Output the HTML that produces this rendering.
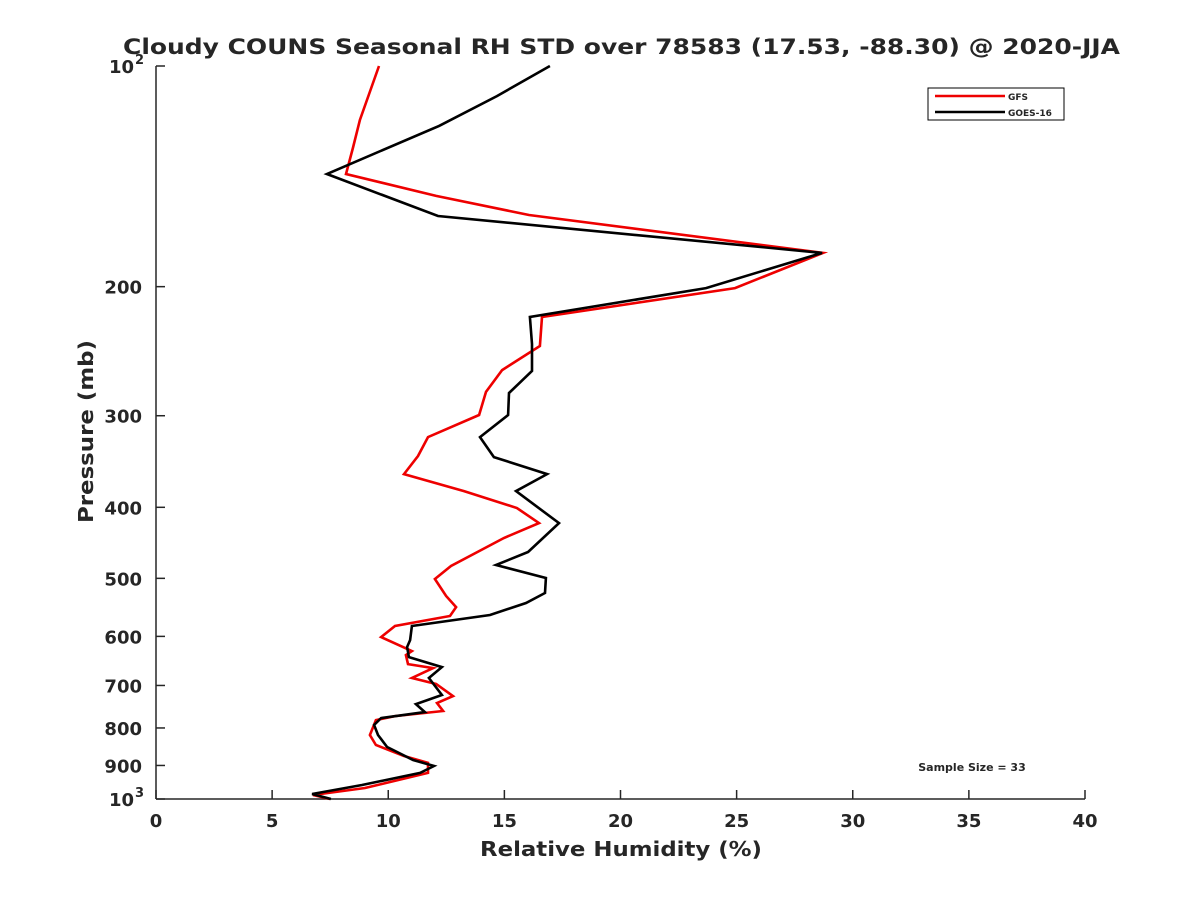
<!DOCTYPE html>
<html><head><meta charset="utf-8"><style>
body{margin:0;background:#fff;}
svg text{font-family:"DejaVu Sans","Liberation Sans",sans-serif;font-weight:bold;fill:#262626;}
</style></head><body>
<svg id="chart" width="1200" height="900" xmlns="http://www.w3.org/2000/svg">
<rect width="1200" height="900" fill="#fff"/>
<text x="123" y="54" font-size="21" textLength="997" lengthAdjust="spacingAndGlyphs" fill="#000">Cloudy COUNS Seasonal RH STD over 78583 (17.53, -88.30) @ 2020-JJA</text>
<g id="axes"></g>
<g id="series"></g>
<g>
<rect x="928" y="88" width="136" height="32" fill="#fff" stroke="#000" stroke-width="1"/>
<line x1="935" y1="96" x2="1005" y2="96" stroke="#e00" stroke-width="2.5"/>
<text x="1008" y="100" font-size="9">GFS</text>
<line x1="935" y1="112" x2="1005" y2="112" stroke="#000" stroke-width="2.5"/>
<text x="1008" y="116" font-size="9">GOES-16</text>
</g>
<text x="972" y="771" font-size="11" text-anchor="middle" fill="#000">Sample Size = 33</text>
<text x="480" y="856" font-size="20" textLength="282" lengthAdjust="spacingAndGlyphs">Relative Humidity (%)</text>
<text transform="translate(93,523) rotate(-90)" font-size="20" textLength="183" lengthAdjust="spacingAndGlyphs">Pressure (mb)</text>
</svg>
<script>
const xTicks=[0,5,10,15,20,25,30,35,40];
const yTicks=[100,200,300,400,500,600,700,800,900,1000];
const goesP=[100,109.9,120.7,140.4,160.2,179.9,200.9,220,239.5,260.7,279.3,299.3,320.8,341.6,360.4,380.1,420.3,460.3,479.5,499.4,523.6,540.3,561,580.7,607,620.4,640.3,660.7,683.9,721.4,742.2,761,775.5,792.6,817.9,849.3,884.7,901.5,921.4,956.9,984.4,1000];
const goesRH=[16.96,14.68,12.19,7.36,12.14,28.68,23.68,16.10,16.19,16.19,15.20,15.16,13.95,14.55,16.84,15.50,17.35,16.02,14.64,16.79,16.75,15.93,14.38,11.02,10.94,10.81,10.89,12.31,11.75,12.31,11.19,11.58,9.69,9.39,9.56,9.95,11.07,11.97,11.37,8.87,6.72,7.53];
const gfsP=[100,118.5,129.4,140.4,150.4,159.7,179.9,200.9,220,241,259.9,278.4,299.3,320.8,340.5,360.4,380.1,400.9,420.3,440.5,481,501,528.5,547.2,562.7,580.7,601.3,628.3,636.3,654.5,662.8,683.9,696.8,723.7,739.6,758.6,770.7,780.4,817.9,843.9,873.6,892.9,921.4,966.1,987.4,1000];
const gfsRH=[9.60,8.78,8.48,8.18,12.06,16.06,28.72,24.93,16.62,16.53,14.90,14.21,13.91,11.71,11.28,10.68,13.26,15.54,16.49,14.98,12.70,12.01,12.49,12.92,12.66,10.29,9.69,11.02,10.76,10.85,11.93,11.02,12.06,12.79,12.10,12.36,10.29,9.47,9.21,9.47,10.68,11.71,11.71,9.00,6.76,7.49];
const X0=156,X1=1085,Y0=66,Y1=799;
const sx=v=>X0+(v-0)/40*(X1-X0);
const sy=p=>Y0+(Math.log10(p)-2)*(Y1-Y0);
const NS="http://www.w3.org/2000/svg";
const axes=document.getElementById('axes'), ser=document.getElementById('series');
function mk(t,a,parent){const e=document.createElementNS(NS,t);for(const k in a)e.setAttribute(k,a[k]);parent.appendChild(e);return e;}
const xa=mk('line',{x1:X0,y1:Y1,x2:X1,y2:Y1,stroke:'#262626','stroke-width':1.5},axes);


const ya=mk('line',{x1:X0,y1:Y0,x2:X0,y2:Y1,stroke:'#262626','stroke-width':1.5},axes);


xTicks.forEach(v=>{
  mk('line',{x1:sx(v),y1:Y1,x2:sx(v),y2:Y1-9,stroke:'#262626','stroke-width':1.5},axes);
  const t=mk('text',{x:sx(v),y:Y1+28,'font-size':18,'text-anchor':'middle'},axes);
  t.textContent=v;
  
  
});
yTicks.forEach(p=>{
  const y=sy(p);
  mk('line',{x1:X0,y1:y,x2:X0+9,y2:y,stroke:'#262626','stroke-width':1.5},axes);
  const big=(p===100||p===1000);
  const t=mk('text',{x:big?X0-22:X0-14,y:y+7,'font-size':18,'text-anchor':'end'},axes);
  t.textContent=big?'10':String(p);
  
  
  if(big){
    const s2=mk('text',{x:X0-12,y:y-2,'font-size':13,'text-anchor':'end'},axes);
    s2.textContent=p===100?'2':'3';
    
    
  }
});
function line(P,V,color,name){
  const d=P.map((p,i)=>(i?'L':'M')+sx(V[i]).toFixed(1)+','+sy(p).toFixed(1)).join('');
  const e=mk('path',{d:d,fill:'none',stroke:color,'stroke-width':2.6,'stroke-linejoin':'miter'},ser);
  
  
}
line(gfsP,gfsRH,'#e00','gfs-line');
line(goesP,goesRH,'#000','goes16-line');
</script>
</body></html>
